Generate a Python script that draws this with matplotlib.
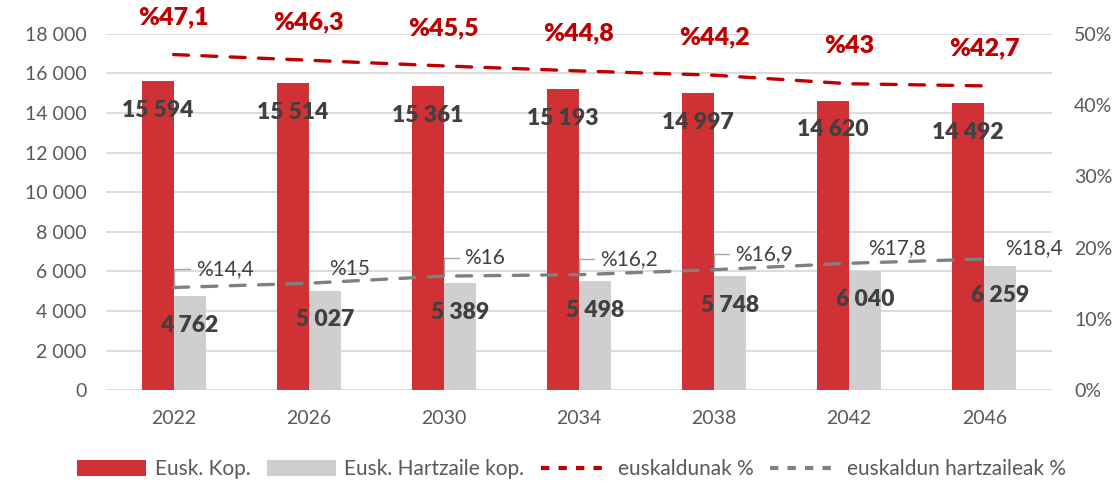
import matplotlib.pyplot as plt
from matplotlib.patches import Patch
from matplotlib.lines import Line2D
from matplotlib.ticker import FuncFormatter
import numpy as np

plt.rcParams['font.family'] = ['Lato', 'DejaVu Sans']

years = ["2022", "2026", "2030", "2034", "2038", "2042", "2046"]
eusk_kop = [15594, 15514, 15361, 15193, 14997, 14620, 14492]
hartzaile_kop = [4762, 5027, 5389, 5498, 5748, 6040, 6259]
euskaldunak_pct = [47.1, 46.3, 45.5, 44.8, 44.2, 43.0, 42.7]
hartzaileak_pct = [14.4, 15.0, 16.0, 16.2, 16.9, 17.8, 18.4]

red_bar = "#D03134"
grey_bar = "#D0CECE"
red_line = "#C00000"
grey_line = "#808080"
txt_dark = "#404040"
txt_axis = "#595959"


def fmt_num(v):
    return f"{int(v):,}".replace(",", " ")


def fmt_pct(v):
    s = f"{v:.1f}".rstrip("0").rstrip(".").replace(".", ",")
    return "%" + s


fig = plt.figure(figsize=(11.19, 4.84), dpi=100)
ax = fig.add_axes([0.0947, 0.194, 0.8453, 0.736])
ax2 = ax.twinx()

x = np.arange(len(years))
w = 0.237

ax.bar(x - w / 2, eusk_kop, width=w, color=red_bar, zorder=2)
ax.bar(x + w / 2, hartzaile_kop, width=w, color=grey_bar, zorder=2)

ax.set_ylim(0, 18000)
ax.set_yticks(range(0, 18001, 2000))
ax.yaxis.set_major_formatter(FuncFormatter(lambda v, p: fmt_num(v)))
ax.set_xlim(-0.5, len(years) - 0.5)
ax.set_xticks(x)
ax.set_xticklabels(years)
ax.grid(axis="y", color="#D9D9D9", linewidth=1.3, zorder=0)
ax.set_axisbelow(True)

for a in (ax, ax2):
    for s in a.spines.values():
        s.set_visible(False)
    a.tick_params(length=0, labelsize=14, labelcolor=txt_axis)
ax.tick_params(axis="x", pad=14)
ax.tick_params(axis="y", pad=14)
ax2.tick_params(axis="y", pad=16)

# bar value labels (inside end)
for i in range(len(years)):
    ax.annotate(fmt_num(eusk_kop[i]), (x[i] - w / 2, eusk_kop[i]),
                xytext=(0, -21), textcoords="offset points",
                ha="center", va="center", fontsize=16.5, fontweight="heavy",
                color=txt_dark, zorder=5)
    ax.annotate(fmt_num(hartzaile_kop[i]), (x[i] + w / 2, hartzaile_kop[i]),
                xytext=(0, -21), textcoords="offset points",
                ha="center", va="center", fontsize=16.5, fontweight="heavy",
                color=txt_dark, zorder=5)

ax2.set_ylim(0, 0.5)
ax2.set_yticks(np.arange(0, 0.51, 0.1))
ax2.yaxis.set_major_formatter(FuncFormatter(lambda v, p: f"{v * 100:.0f}%"))

red_pct = [v / 100 for v in euskaldunak_pct]
grey_pct = [v / 100 for v in hartzaileak_pct]

ax2.plot(x, red_pct, color=red_line, linewidth=2.4, dashes=(4.5, 4),
         dash_capstyle="round", zorder=4)
ax2.plot(x, grey_pct, color=grey_line, linewidth=2.4, dashes=(4.5, 4),
         dash_capstyle="round", zorder=4)

for i in range(len(years)):
    ax2.annotate(fmt_pct(euskaldunak_pct[i]), (x[i], red_pct[i]),
                 xytext=(0, 27), textcoords="offset points",
                 ha="center", va="center", fontsize=18, fontweight="heavy",
                 color=red_line)

# grey percentage labels, some with leader lines
grey_offsets = [(16, 13), (15, 10), (15, 13), (15, 11), (15, 11), (14, 11), (15, 8)]
leader = [True, False, True, True, True, False, False]
for i in range(len(years)):
    dx, dy = grey_offsets[i]
    props = None
    if leader[i]:
        props = dict(arrowstyle="-", color="#A6A6A6", linewidth=1,
                     connectionstyle="angle,angleA=0,angleB=90,rad=0",
                     shrinkA=2, shrinkB=0)
    ax2.annotate(fmt_pct(hartzaileak_pct[i]), (x[i], grey_pct[i]),
                 xytext=(dx, dy), textcoords="offset points",
                 ha="left", va="center", fontsize=15,
                 color=txt_dark, arrowprops=props)

handles = [
    Patch(facecolor=red_bar, label="Eusk. Kop."),
    Patch(facecolor=grey_bar, label="Eusk. Hartzaile kop."),
    Line2D([], [], color=red_line, linewidth=3, dashes=(2, 2.2), label="euskaldunak %"),
    Line2D([], [], color=grey_line, linewidth=3, dashes=(2, 2.2), label="euskaldun hartzaileak %"),
]
leg = fig.legend(handles=handles, loc="center", bbox_to_anchor=(0.511, 0.03), ncol=4,
                 frameon=False, prop={"family": ["Liberation Sans Narrow", "Lato"], "size": 15},
                 handlelength=3.3, handleheight=0.8,
                 handletextpad=0.4, columnspacing=0.8)
for t in leg.get_texts():
    t.set_color(txt_axis)

fig.savefig("out.png", dpi=100)
